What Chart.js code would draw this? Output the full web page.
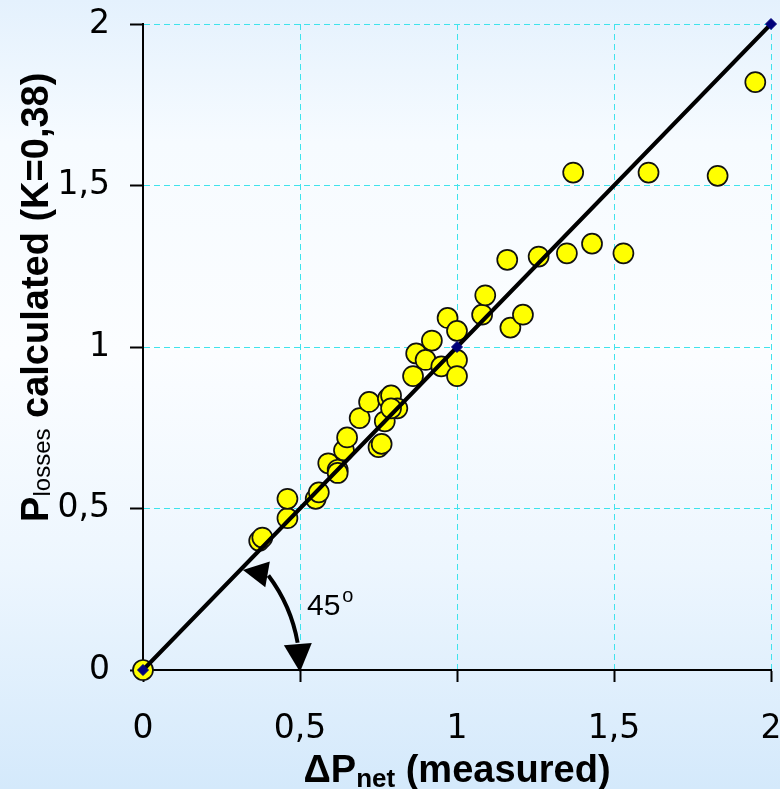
<!DOCTYPE html>
<html lang="en">
<head>
  <meta charset="UTF-8" />
  <title>Plosses calculated vs ΔPnet measured</title>
  <script src="https://cdn.jsdelivr.net/npm/chart.js"></script>
  <style>
    html, body {
      margin: 0;
      padding: 0;
    }
    body {
      width: 780px;
      height: 789px;
      overflow: hidden;
      background: linear-gradient(to bottom, #e4f1fd 0%, #f6fbff 18%, #fbfdff 45%, #edf6fe 72%, #d4e9fb 100%);
    }
  </style>
</head>
<body>
  <canvas id="lossChart" width="780" height="789"></canvas>

  <script>
    // measured ΔPnet (x) and calculated Plosses (y)
    const measured = [0, 0.37, 0.38, 0.46, 0.46, 0.55, 0.56, 0.59, 0.62, 0.62, 0.64, 0.65, 0.69, 0.72, 0.75,
      0.76, 0.77, 0.78, 0.79, 0.81, 0.79, 0.86, 0.87, 0.90, 0.92, 0.95, 0.97, 1.00, 1.00, 1.00, 1.08,
      1.09, 1.17, 1.21, 1.16, 1.26, 1.35, 1.43, 1.53, 1.37, 1.61, 1.83, 1.95];
    const calculated = [0, 0.40, 0.41, 0.47, 0.53, 0.53, 0.55, 0.64, 0.62, 0.61, 0.68, 0.72, 0.78, 0.83, 0.69,
      0.70, 0.77, 0.84, 0.85, 0.81, 0.81, 0.91, 0.98, 0.96, 1.02, 0.94, 1.09, 1.05, 0.96, 0.91, 1.10,
      1.16, 1.06, 1.10, 1.27, 1.28, 1.29, 1.32, 1.29, 1.54, 1.54, 1.53, 1.82];

    // 45 degree reference line
    const refX = [0, 1, 2];
    const refY = [0, 1, 2];

    const tickValues = [0, 0.5, 1, 1.5, 2];
    const tickLabels = ['0', '0,5', '1', '1,5', '2'];

    const tickFont = { family: '"DejaVu Sans", sans-serif', size: 33 };
    const gridColor = c => (c.tick && c.tick.value === 0) ? 'rgba(0,0,0,0)' : '#3fe3ec';
    const fmtTick = v => {
      const i = tickValues.indexOf(v);
      return i >= 0 ? tickLabels[i] : '';
    };
    // fixed axis sizes, and no extra padding for overhanging labels
    const fixAxis = (s, size) => {
      if (s.isHorizontal()) s.height = size; else s.width = size;
      s.paddingTop = s.paddingBottom = s.paddingLeft = s.paddingRight = 0;
    };

    // axis titles with subscripts + the 45° angle marker
    const extras = {
      id: 'extras',
      afterDatasetsDraw(chart) {
        const { ctx, chartArea, scales } = chart;
        const x0 = scales.x.getPixelForValue(0);
        const y0 = scales.y.getPixelForValue(0);
        const r = scales.x.getPixelForValue(0.5) - x0;
        const pol = (rad, deg) => [x0 + rad * Math.cos(deg * Math.PI / 180), y0 + rad * Math.sin(deg * Math.PI / 180)];

        ctx.save();
        ctx.strokeStyle = '#000';
        ctx.fillStyle = '#000';
        ctx.lineWidth = 4;
        ctx.beginPath();
        ctx.arc(x0, y0, r, -37 * Math.PI / 180, -10 * Math.PI / 180);
        ctx.stroke();

        const head = (tip, base, hw) => {
          const dx = tip[0] - base[0], dy = tip[1] - base[1];
          const len = Math.hypot(dx, dy);
          const nx = -dy / len * hw, ny = dx / len * hw;
          ctx.beginPath();
          ctx.moveTo(tip[0], tip[1]);
          ctx.lineTo(base[0] + nx, base[1] + ny);
          ctx.lineTo(base[0] - nx, base[1] - ny);
          ctx.closePath();
          ctx.fill();
        };
        head(pol(r * 0.9, -45), pol(r, -37.5), 13);
        head(pol(r, 0.7), pol(r, -9.5), 14);

        ctx.font = '30px "Liberation Sans", Arial, sans-serif';
        ctx.textBaseline = 'alphabetic';
        ctx.textAlign = 'left';
        ctx.fillText('45', x0 + r + 7, y0 - 55);
        const w45 = ctx.measureText('45').width;
        ctx.font = '20px "Liberation Sans", Arial, sans-serif';
        ctx.fillText('o', x0 + r + 9 + w45, y0 - 68);

        // x title: ΔPnet (measured)
        const big = 'bold 38px "Liberation Sans", Arial, sans-serif';
        const sub = 'bold 26px "Liberation Sans", Arial, sans-serif';
        const xParts = [['ΔP', big, 0], ['net', sub, 5], [' (measured)', big, 0]];
        let total = 0;
        xParts.forEach(p => { ctx.font = p[1]; total += ctx.measureText(p[0]).width; });
        let cx = (chartArea.left + chartArea.right) / 2 - total / 2;
        xParts.forEach(p => {
          ctx.font = p[1];
          ctx.fillText(p[0], cx, 782 + p[2]);
          cx += ctx.measureText(p[0]).width;
        });

        // y title: Plosses calculated (K=0,38)
        const yParts = [['P', big, 0], ['losses', '24px "Liberation Sans", Arial, sans-serif', 2], [' calculated (K=0,38)', big, 0]];
        total = 0;
        yParts.forEach(p => { ctx.font = p[1]; total += ctx.measureText(p[0]).width; });
        const cy = chartArea.top + (chartArea.bottom - chartArea.top) * 0.423;
        ctx.translate(48, cy + total / 2);
        ctx.rotate(-Math.PI / 2);
        let tx = 0;
        yParts.forEach(p => {
          ctx.font = p[1];
          ctx.fillText(p[0], tx, p[2]);
          tx += ctx.measureText(p[0]).width;
        });
        ctx.restore();
      }
    };

    const ctx = document.getElementById('lossChart').getContext('2d');
    const chart = new Chart(ctx, {
      type: 'scatter',
      data: {
        datasets: [
          {
            label: '45° line',
            data: refX.map((x, i) => ({ x: x, y: refY[i] })),
            showLine: true,
            borderColor: '#000',
            borderWidth: 4,
            pointStyle: 'rectRot',
            pointRadius: 5.5,
            pointBackgroundColor: '#00007a',
            pointBorderColor: '#00007a',
            pointBorderWidth: 1,
            clip: false,
            order: 0
          },
          {
            label: 'Plosses',
            data: measured.map((x, i) => ({ x: x, y: calculated[i] })),
            backgroundColor: '#ffff00',
            borderColor: '#111',
            borderWidth: 1.7,
            pointRadius: 10,
            clip: false,
            order: 1
          }
        ]
      },
      options: {
        responsive: false,
        animation: false,
        layout: { autoPadding: false, padding: { top: 24, right: 9, left: 0, bottom: 0 } },
        scales: {
          x: {
            min: 0,
            max: 2,
            afterFit: s => fixAxis(s, 119),
            afterBuildTicks: s => { s.ticks = tickValues.map(v => ({ value: v })); },
            ticks: { callback: fmtTick, font: tickFont, color: '#000', padding: 28, maxRotation: 0, autoSkip: false },
            grid: { color: gridColor, lineWidth: 1, tickColor: '#000', tickLength: 12, tickWidth: 2 },
            border: { color: '#000', width: 2, dash: [6, 4] }
          },
          y: {
            min: 0,
            max: 2,
            afterFit: s => fixAxis(s, 143),
            afterBuildTicks: s => { s.ticks = tickValues.map(v => ({ value: v })); },
            ticks: { callback: fmtTick, font: tickFont, color: '#000', padding: 20, autoSkip: false },
            grid: { color: gridColor, lineWidth: 1, tickColor: '#000', tickLength: 13, tickWidth: 2 },
            border: { color: '#000', width: 2, dash: [6, 4] }
          }
        },
        plugins: {
          legend: { display: false },
          tooltip: { enabled: false }
        }
      },
      plugins: [extras]
    });
  </script>
</body>
</html>
